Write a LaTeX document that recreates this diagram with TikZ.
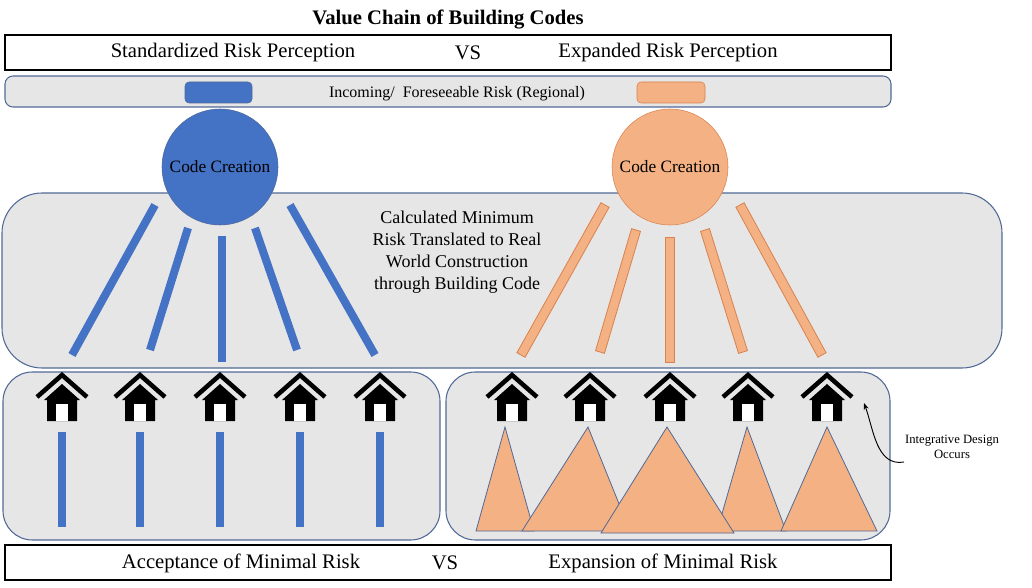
\documentclass[tikz,border=0pt]{standalone}
\usepackage{fontspec}
\setmainfont{Liberation Serif}
\usetikzlibrary{arrows.meta,calc}
\definecolor{vc_blue}{RGB}{68, 114, 196}
\definecolor{vc_orange}{RGB}{244, 177, 131}
\definecolor{vc_dorange}{RGB}{215, 130, 80}
\definecolor{vc_gray}{RGB}{231, 230, 230}
\definecolor{vc_edge}{RGB}{80, 105, 150}
\tikzstyle{band}=[fill=vc_gray,draw=vc_edge,line width=0.8pt,rounded corners=12pt]
\tikzstyle{whitebox}=[fill=white,draw=black,line width=0.8pt]
\tikzstyle{bigtext}=[font=\fontsize{15.5}{18}\selectfont]
\tikzstyle{bbar}=[line width=6pt,draw=vc_blue]
\tikzstyle{obar}=[fill=vc_orange,draw=vc_dorange,line width=0.6pt]
\tikzstyle{tri}=[fill=vc_orange,draw=vc_edge,line width=0.6pt]
\tikzstyle{none}=[]
\newcommand{\hut}[2]{%
  \draw[line width=3.4pt,line cap=butt] (#1-25,#2+22) -- (#1,#2) -- (#1+25,#2+22);
  \fill[black] (#1-18,#2+25) -- (#1,#2+9) -- (#1+18,#2+25) -- (#1+15,#2+25) -- (#1+15,#2+46) -- (#1-15,#2+46) -- (#1-15,#2+25) -- cycle;
  \fill[white] (#1-6,#2+29) rectangle (#1+6,#2+46);}
\newcommand{\obar}[4]{%
  \draw[obar] ($(#1,#2)!3.5pt!90:(#3,#4)$) -- ($(#3,#4)!3.5pt!-90:(#1,#2)$)
    -- ($(#3,#4)!3.5pt!90:(#1,#2)$) -- ($(#1,#2)!3.5pt!-90:(#3,#4)$) -- cycle;}
\begin{document}
\begin{tikzpicture}[x=0.75pt,y=-0.75pt]
            \useasboundingbox (0,0) rectangle (1032,588);
            \node [style=none,font=\bfseries\fontsize{15.5}{18}\selectfont] (title) at (448,20) {Value Chain of Building Codes};
            \draw [style=whitebox] (5,35) rectangle (891,70);
            \node [style=bigtext] (std) at (233,53) {Standardized Risk Perception};
            \node [style=bigtext] (vs1) at (468,53) {VS};
            \node [style=bigtext] (exp) at (668,53) {Expanded Risk Perception};
            \draw [style=band,rounded corners=6pt] (5,76) rectangle (891,107);
            \draw [fill=vc_blue,draw=vc_edge,rounded corners=3pt] (185,82) rectangle (252,103);
            \draw [fill=vc_orange,draw=vc_dorange,rounded corners=3pt] (637,82) rectangle (705,103);
            \node [font=\fontsize{12}{14}\selectfont] (inc) at (457,94) {Incoming/\ \ Foreseeable Risk (Regional)};
            \draw [style=band,rounded corners=30pt] (2,193) rectangle (1002,368);
            \node [align=center,font=\fontsize{13.5}{16.5}\selectfont] (calc) at (457,252) {Calculated Minimum\\Risk Translated to Real\\World Construction\\through Building Code};
            \node [circle,fill=vc_blue,draw=vc_edge,minimum size=87pt,inner sep=0pt,font=\fontsize{13}{15}\selectfont] (bc) at (220,167) {Code Creation};
            \node [circle,fill=vc_orange,draw=vc_dorange,minimum size=87pt,inner sep=0pt,font=\fontsize{13}{15}\selectfont] (oc) at (670,167) {Code Creation};
            \draw [style=bbar] (155,205) -- (72,355);
            \draw [style=bbar] (188,228) -- (150,350);
            \draw [style=bbar] (222,236) -- (222,362);
            \draw [style=bbar] (255,228) -- (297,350);
            \draw [style=bbar] (290,205) -- (375,355);
            \obar{605}{205}{521}{355}
            \obar{636}{230}{600}{352}
            \obar{670}{237}{670}{362}
            \obar{705}{230}{743}{352}
            \obar{740}{205}{822}{355}
            \draw [style=band,rounded corners=22pt] (3,372) rectangle (440,540);
            \draw [style=band,rounded corners=22pt] (446,372) rectangle (890,540);
            \foreach \x in {62,140,220,300,380} {
              \hut{\x}{375}
              \draw [style=bbar] (\x,432) -- (\x,527);
            }
            \foreach \x in {512,590,670,748,827} {\hut{\x}{375}}
            \draw [style=tri] (476,531) -- (505,427) -- (534,531) -- cycle;
            \draw [style=tri] (522,531) -- (588,427) -- (630,531) -- cycle;
            \draw [style=tri] (717,531) -- (747,427) -- (786,531) -- cycle;
            \draw [style=tri] (601,533) -- (667,427) -- (734,533) -- cycle;
            \draw [style=tri] (781,531) -- (827,427) -- (877,531) -- cycle;
            \node [align=center,font=\fontsize{9.5}{11}\selectfont] (integ) at (952,447) {Integrative Design\\Occurs};
            \coordinate (tip) at (864,403);
            \coordinate (tail) at (904,462);
            \draw [-{Stealth[length=5pt]},line width=0.7pt] (tail) to[out=190,in=-70] (tip);
            \draw [style=whitebox] (5,545) rectangle (891,580);
            \node [style=bigtext] (acc) at (241,563) {Acceptance of Minimal Risk};
            \node [style=bigtext] (vs2) at (445,563) {VS};
            \node [style=bigtext] (expn) at (663,563) {Expansion of Minimal Risk};
    \end{tikzpicture}
\end{document}
